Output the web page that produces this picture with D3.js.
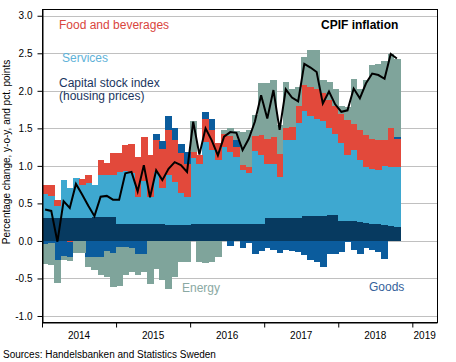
<!DOCTYPE html>
<html><head><meta charset="utf-8">
<script src="https://cdn.jsdelivr.net/npm/d3@7"></script>
<style>
body{margin:0;background:#fff}
svg{display:block}
text{font-family:"Liberation Sans",Arial,sans-serif}
</style>
</head><body>
<svg id="c" width="456" height="362"></svg>
<script>
// Monthly data, Jan 2014 .. Oct 2018 (58 months)
const yearLabels = ["2014","2015","2016","2017","2018","2019"];
const yTicks = [-1.0,-0.5,0.0,0.5,1.0,1.5,2.0,2.5,3.0];

const capital = [0.30,0.30,0.30,0.30,0.30,0.30,0.30,0.30,0.32,0.32,0.32,0.32,
  0.23,0.23,0.22,0.22,0.22,0.22,0.22,0.22,0.21,0.21,0.21,0.21,
  0.22,0.22,0.22,0.22,0.22,0.22,0.22,0.22,0.22,0.22,0.22,0.22,
  0.31,0.31,0.31,0.31,0.31,0.31,0.33,0.33,0.33,0.33,0.34,0.34,
  0.27,0.26,0.26,0.25,0.24,0.23,0.22,0.21,0.20,0.19];
const services = [0.32,0.30,0.16,0.51,0.40,0.54,0.45,0.47,0.42,0.56,0.56,0.56,
  0.69,0.70,0.68,0.37,0.58,0.37,0.70,0.49,0.67,0.58,0.43,0.37,
  0.88,0.81,1.10,0.99,0.86,1.03,0.97,0.90,0.72,0.68,0.98,0.93,
  0.72,0.72,0.54,1.03,1.03,1.26,1.40,1.34,1.30,1.27,1.17,1.08,
  1.03,0.89,0.95,0.83,0.75,0.73,0.73,0.79,0.79,0.80];
const food = [0.12,0.14,0.08,0.00,-0.02,0.00,0.07,0.11,0.00,0.20,0.16,0.29,
  0.25,0.35,0.39,0.53,0.59,0.56,0.43,0.52,0.60,0.56,0.53,0.45,
  0.08,0.11,0.31,0.27,0.22,0.18,0.21,0.13,0.07,0.08,0.20,0.26,
  0.33,0.36,0.31,0.16,0.18,0.23,0.35,0.38,0.39,0.37,0.37,0.38,
  0.39,0.46,0.35,0.40,0.42,0.40,0.39,0.35,0.52,0.37];
const goods = [-0.04,-0.03,-0.26,-0.20,-0.20,0.00,0.00,-0.21,-0.21,-0.21,-0.13,-0.16,
  -0.08,-0.08,-0.10,-0.17,-0.17,0.00,0.07,0.10,0.18,0.15,0.12,0.15,
  0.00,0.00,0.09,0.15,0.00,0.00,-0.07,0.09,-0.09,-0.03,-0.17,-0.14,
  -0.10,-0.12,-0.16,-0.12,-0.13,-0.15,-0.19,-0.26,-0.28,-0.35,-0.18,-0.17,
  -0.15,-0.02,-0.12,-0.17,-0.09,-0.12,-0.15,-0.24,0.00,0.03];
const energy = [-0.27,-0.29,-0.30,-0.05,-0.05,-0.16,-0.16,-0.14,-0.18,-0.25,-0.35,-0.46,
  -0.52,-0.37,-0.32,-0.28,-0.25,-0.57,-0.38,-0.52,-0.64,-0.48,-0.28,-0.28,
  0.42,-0.28,-0.30,-0.28,-0.22,0.05,0.10,0.13,0.44,0.50,0.28,0.69,
  0.74,0.76,0.39,0.62,0.51,0.25,0.37,0.50,0.53,0.18,0.24,0.23,
  0.11,0.17,0.60,0.55,0.73,0.98,1.02,1.05,0.98,1.04];
const cpif = [0.42,0.40,-0.01,0.53,0.44,0.76,0.62,0.47,0.33,0.59,0.60,0.55,
  0.55,0.90,0.92,0.66,1.01,0.58,0.94,0.81,0.96,1.05,1.01,0.92,
  1.59,1.15,1.50,1.34,1.14,1.39,1.45,1.44,1.21,1.36,1.59,1.94,
  1.63,2.01,1.48,2.02,1.91,1.86,2.36,2.31,2.25,1.83,1.99,1.82,
  1.72,1.74,2.03,1.90,2.10,2.23,2.21,2.16,2.49,2.43];

const keys = ["capital","services","food","goods","energy"];
const colors = {capital:"#073a60",services:"#3ea8d0",food:"#e2493b",goods:"#0b5c9d",energy:"#7fa49b"};

const rows = capital.map((v,i)=>({i, capital:v, services:services[i], food:food[i], goods:goods[i], energy:energy[i]}));

const svg = d3.select("#c");
const L=42, R=437, T=9, B=322;
const x = d3.scaleLinear().domain([0,64]).range([L,R]);
const y = d3.scaleLinear().domain([-1.08,3.09]).range([B,T]);

// gridlines
svg.append("g").selectAll("line").data(yTicks).join("line")
  .attr("x1",L).attr("x2",R).attr("y1",d=>Math.round(y(d))+0.5).attr("y2",d=>Math.round(y(d))+0.5)
  .attr("stroke","#c0c0c0").attr("stroke-width",1);

// stacked bars
const series = d3.stack().keys(keys).offset(d3.stackOffsetDiverging)(rows);
svg.append("g").attr("shape-rendering","crispEdges").selectAll("g").data(series).join("g")
  .attr("fill",d=>colors[d.key])
  .selectAll("rect").data(d=>d).join("rect")
  .attr("x",d=>x(d.data.i))
  .attr("width",d=>x(d.data.i+1)-x(d.data.i)+0.6)
  .attr("y",d=>y(Math.max(d[0],d[1])))
  .attr("height",d=>Math.abs(y(d[0])-y(d[1])));

// CPIF line
svg.append("path").datum(cpif)
  .attr("fill","none").attr("stroke","#000").attr("stroke-width",2).attr("stroke-linejoin","miter")
  .attr("d",d3.line().x((d,i)=>x(i+0.5)).y(d=>y(d)));

// frame
svg.append("rect").attr("x",L+0.5).attr("y",T+0.5).attr("width",R-L).attr("height",B-T)
  .attr("fill","none").attr("stroke","#000").attr("stroke-width",1);

// y axis
const ya = svg.append("g").attr("transform",`translate(${L+0.5},0)`)
  .call(d3.axisLeft(y).tickValues(yTicks).tickSize(5).tickPadding(5).tickSizeOuter(0).tickFormat(d=>d.toFixed(1)));
ya.select(".domain").attr("stroke","#000");
ya.selectAll("text").attr("font-size",10).attr("fill","#000").attr("font-family","Liberation Sans, Arial, sans-serif");

// x axis
const xa = svg.append("g").attr("transform",`translate(0,${B+0.5})`)
  .call(d3.axisBottom(x).tickValues([0,12,24,36,48,60]).tickSize(5).tickSizeOuter(0).tickFormat(""));
xa.select(".domain").attr("stroke","#000");
svg.append("g").selectAll("text").data(yearLabels).join("text")
  .attr("x",(d,i)=>x(i===5?62:i*12+6)).attr("y",339).attr("text-anchor","middle")
  .attr("font-size",10).attr("fill","#000").text(d=>d);

// y title
svg.append("text").attr("transform","translate(10,152) rotate(-90)").attr("text-anchor","middle")
  .attr("font-size",10).attr("fill","#000").text("Percentage change, y-o-y, and pct. points");

// in-chart labels
const lab = (t,xx,yy,c,w)=>svg.append("text").attr("x",xx).attr("y",yy).attr("font-size",12)
  .attr("fill",c).attr("font-weight",w||"normal").text(t);
lab("Food and beverages",59,29,"#d9463d");
lab("Services",62,62,"#5fb2d8");
lab("Capital stock index",59,87,"#1a3560");
lab("(housing prices)",59,100,"#1a3560");
lab("CPIF inflation",321,29,"#000","bold");
lab("Energy",182,292,"#8aa9a3");
lab("Goods",369,291,"#35629b");

svg.append("text").attr("x",3).attr("y",358).attr("font-size",10).attr("fill","#000")
  .text("Sources: Handelsbanken and Statistics Sweden");
</script>
</body></html>
